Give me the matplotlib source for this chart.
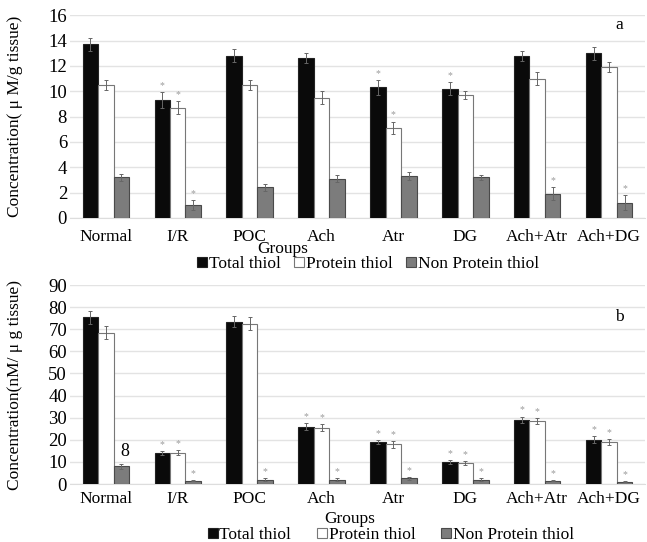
import numpy as np
import matplotlib
matplotlib.use("Agg")
import matplotlib.pyplot as plt

plt.rcParams['font.family'] = ['Liberation Serif', 'DejaVu Serif']

groups = ['Normal', 'I/R', 'POC', 'Ach', 'Atr', 'DG', 'Ach+Atr', 'Ach+DG']
series = ['Total thiol', 'Protein thiol', 'Non Protein thiol']

# panel a (uM/g tissue)
total_a = [13.7, 9.3, 12.8, 12.6, 10.3, 10.2, 12.8, 13.0]
protein_a = [10.5, 8.7, 10.5, 9.5, 7.1, 9.7, 11.0, 11.9]
nonprot_a = [3.2, 1.0, 2.4, 3.1, 3.3, 3.2, 1.9, 1.2]
err_total_a = [0.5, 0.6, 0.5, 0.4, 0.6, 0.5, 0.4, 0.5]
err_protein_a = [0.4, 0.5, 0.4, 0.5, 0.5, 0.3, 0.5, 0.4]
err_nonprot_a = [0.3, 0.4, 0.3, 0.3, 0.3, 0.2, 0.5, 0.6]
# significance marks (1 = star above bar)
sig_a = [[0, 1, 0, 0, 1, 1, 0, 0],
         [0, 1, 0, 0, 1, 0, 0, 0],
         [0, 1, 0, 0, 0, 0, 1, 1]]

# panel b (nM/ug tissue)
total_b = [75.5, 14.0, 73.5, 26.0, 19.0, 10.0, 29.0, 20.0]
protein_b = [68.5, 14.2, 72.5, 25.5, 18.0, 9.5, 28.5, 19.0]
nonprot_b = [8.0, 1.5, 2.0, 2.0, 2.5, 2.0, 1.5, 1.0]
err_total_b = [3.0, 1.0, 2.5, 1.5, 1.0, 1.0, 1.5, 1.5]
err_protein_b = [3.0, 1.0, 3.0, 1.5, 1.5, 1.0, 1.5, 1.5]
err_nonprot_b = [1.0, 0.3, 0.5, 0.5, 0.5, 0.5, 0.3, 0.3]
sig_b = [[0, 1, 0, 1, 1, 1, 1, 1],
         [0, 1, 0, 1, 1, 1, 1, 1],
         [0, 1, 1, 1, 1, 1, 1, 1]]

colors = ['#0a0a0a', 'white', '#7c7c7c']
edges = ['#222222', '#777777', '#4a4a4a']

fig = plt.figure(figsize=(6.47, 5.42), dpi=100)
ax1 = fig.add_axes([0.108, 0.598, 0.889, 0.374])
ax2 = fig.add_axes([0.108, 0.107, 0.889, 0.367])


def draw(ax, vals, errs, sig, ylim, step, ylabel, tag, tag_y, pad,
         groups_xy, leg_xy, leg_fs, colspace):
    x = np.arange(len(groups))
    w = 0.215
    handles = []
    for i, (v, e) in enumerate(zip(vals, errs)):
        b = ax.bar(x + (i - 1) * w, v, w, color=colors[i], edgecolor=edges[i],
                   linewidth=0.8, label=series[i], zorder=3)
        ax.errorbar(x + (i - 1) * w, v, yerr=e, fmt='none', ecolor='#666666',
                    elinewidth=0.7, capsize=1.5, capthick=0.7, zorder=4)
        handles.append(b)
        for j in range(len(groups)):
            if sig[i][j]:
                ax.text(x[j] + (i - 1) * w, v[j] + e[j] + ylim * 0.01, '*',
                        ha='center', va='bottom', fontsize=7, color='#9a9a9a')
    ax.set_xlim(-0.5, len(groups) - 0.5)
    ax.set_ylim(0, ylim)
    ax.set_yticks(np.arange(0, ylim + 1, step))
    ax.set_xticks(x)
    ax.set_xticklabels(groups)
    ax.grid(axis='y', color='#e3e3e3', linewidth=1, zorder=0)
    for s in ['top', 'right', 'left']:
        ax.spines[s].set_visible(False)
    ax.spines['bottom'].set_color('#dddddd')
    ax.tick_params(axis='x', length=0, labelsize=12.5, pad=pad)
    ax.tick_params(axis='y', length=0, labelsize=13.5, pad=2)
    ax.set_ylabel(ylabel, fontsize=12.5)
    ax.yaxis.set_label_coords(-0.082, 0.5)
    ax.text(0.955, tag_y, tag, transform=ax.transAxes, fontsize=12.5,
            ha='center', va='center')
    fig.text(groups_xy[0] / 647, 1 - groups_xy[1] / 542, 'Groups', fontsize=12.5,
             ha='center', va='center')
    leg = fig.legend(handles=handles, loc='center',
                     bbox_to_anchor=(leg_xy[0] / 647, 1 - leg_xy[1] / 542),
                     ncol=3, frameon=False, fontsize=leg_fs, handlelength=0.55,
                     handleheight=0.55, handletextpad=0.1, columnspacing=colspace,
                     borderaxespad=0, borderpad=0)
    return leg


draw(ax1, [total_a, protein_a, nonprot_a], [err_total_a, err_protein_a, err_nonprot_a],
     sig_a, 16, 2, 'Concentration( μ M/g tissue)', 'a', 0.95, 8,
     (283, 249), (368, 264), 12.5, 0.8)
draw(ax2, [total_b, protein_b, nonprot_b], [err_total_b, err_protein_b, err_nonprot_b],
     sig_b, 90, 10, 'Concentration(nM/ μ g tissue)', 'b', 0.84, 5,
     (350, 519), (391, 535), 12.5, 1.5)
ax2.text(0.26, nonprot_b[0] + 3, '8', ha='center', va='bottom', fontsize=13)

fig.savefig('out.png', dpi=100)
